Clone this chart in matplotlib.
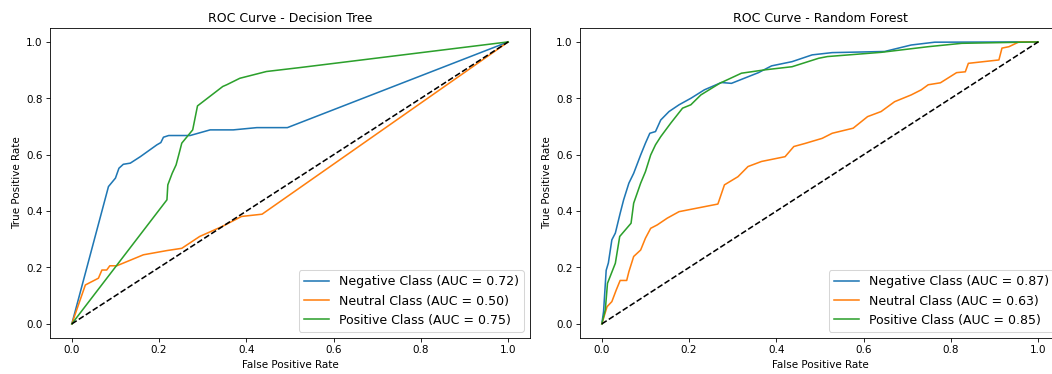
import numpy as np
import matplotlib.pyplot as plt

# Decision Tree ROC points
dt_neg_fpr = [0, 0.084, 0.100, 0.108, 0.118, 0.134, 0.157, 0.195, 0.204, 0.210, 0.222, 0.271, 0.317, 0.370, 0.424, 0.494, 1]
dt_neg_tpr = [0, 0.487, 0.517, 0.552, 0.566, 0.570, 0.593, 0.635, 0.643, 0.662, 0.668, 0.668, 0.688, 0.688, 0.696, 0.696, 1]

dt_neu_fpr = [0, 0.031, 0.061, 0.069, 0.080, 0.087, 0.103, 0.164, 0.218, 0.252, 0.293, 0.344, 0.389, 0.436, 1]
dt_neu_tpr = [0, 0.138, 0.162, 0.191, 0.191, 0.206, 0.206, 0.245, 0.260, 0.268, 0.310, 0.345, 0.381, 0.389, 1]

dt_pos_fpr = [0, 0.218, 0.220, 0.230, 0.239, 0.246, 0.252, 0.277, 0.288, 0.346, 0.355, 0.385, 0.446, 0.523, 1]
dt_pos_tpr = [0, 0.440, 0.493, 0.534, 0.564, 0.605, 0.641, 0.688, 0.773, 0.842, 0.848, 0.871, 0.895, 0.909, 1]

# Random Forest ROC points
rf_neg_fpr = [0, 0.004, 0.010, 0.015, 0.023, 0.031, 0.042, 0.050, 0.062, 0.073, 0.089, 0.100, 0.110, 0.123,
              0.135, 0.154, 0.177, 0.204, 0.235, 0.274, 0.297, 0.359, 0.389, 0.436, 0.482, 0.528, 0.648, 0.709, 0.763, 1]
rf_neg_tpr = [0, 0.044, 0.190, 0.216, 0.298, 0.322, 0.392, 0.440, 0.499, 0.534, 0.599, 0.641, 0.676, 0.682,
              0.723, 0.753, 0.777, 0.800, 0.830, 0.856, 0.853, 0.891, 0.915, 0.930, 0.954, 0.962, 0.966, 0.989, 0.999, 1]

rf_neu_fpr = [0, 0.012, 0.023, 0.033, 0.042, 0.057, 0.062, 0.073, 0.089, 0.100, 0.112, 0.127, 0.150, 0.177,
              0.266, 0.281, 0.312, 0.335, 0.366, 0.420, 0.440, 0.466, 0.505, 0.528, 0.576, 0.609, 0.640, 0.671,
              0.709, 0.732, 0.748, 0.776, 0.813, 0.833, 0.840, 0.910, 0.917, 0.933, 0.956, 1]
rf_neu_tpr = [0, 0.061, 0.079, 0.120, 0.154, 0.154, 0.185, 0.239, 0.262, 0.304, 0.339, 0.351, 0.375, 0.398,
              0.425, 0.493, 0.522, 0.558, 0.576, 0.593, 0.629, 0.640, 0.658, 0.676, 0.694, 0.735, 0.753, 0.788,
              0.812, 0.830, 0.848, 0.855, 0.891, 0.894, 0.924, 0.936, 0.978, 0.983, 1.0, 1]

rf_pos_fpr = [0, 0.008, 0.013, 0.031, 0.041, 0.067, 0.073, 0.089, 0.100, 0.112, 0.123, 0.135, 0.158, 0.185,
              0.204, 0.227, 0.270, 0.320, 0.374, 0.436, 0.497, 0.517, 0.640, 0.748, 0.825, 1]
rf_pos_tpr = [0, 0.050, 0.144, 0.215, 0.310, 0.357, 0.428, 0.499, 0.540, 0.599, 0.635, 0.664, 0.712, 0.765,
              0.777, 0.812, 0.853, 0.889, 0.901, 0.912, 0.942, 0.948, 0.963, 0.983, 0.995, 1]

class_names = ['Negative Class', 'Neutral Class', 'Positive Class']
dt_auc = [0.72, 0.50, 0.75]
rf_auc = [0.87, 0.63, 0.85]


def main():
    fig = plt.figure(figsize=(14, 4.98), dpi=75.143)
    # the reference is a tight crop of a wider figure, right panel runs off the edge
    ax1 = fig.add_axes([50 / 1052, 36 / 374, 480 / 1052, 310 / 374])
    ax2 = fig.add_axes([580 / 1052, 36 / 374, 480 / 1052, 310 / 374])

    models = [
        ('Decision Tree', [(dt_neg_fpr, dt_neg_tpr), (dt_neu_fpr, dt_neu_tpr), (dt_pos_fpr, dt_pos_tpr)], dt_auc),
        ('Random Forest', [(rf_neg_fpr, rf_neg_tpr), (rf_neu_fpr, rf_neu_tpr), (rf_pos_fpr, rf_pos_tpr)], rf_auc),
    ]

    for ax, (name, curves, aucs) in zip([ax1, ax2], models):
        for (fpr, tpr), label, auc in zip(curves, class_names, aucs):
            ax.plot(fpr, tpr, label=f'{label} (AUC = {auc:.2f})')
        ax.plot([0, 1], [0, 1], 'k--')
        ax.set_xlabel('False Positive Rate')
        ax.set_ylabel('True Positive Rate')
        ax.set_title(f'ROC Curve - {name}')
        ax.legend(loc='lower right', fontsize=12)

    plt.savefig('out.png')


if __name__ == "__main__":
    main()
